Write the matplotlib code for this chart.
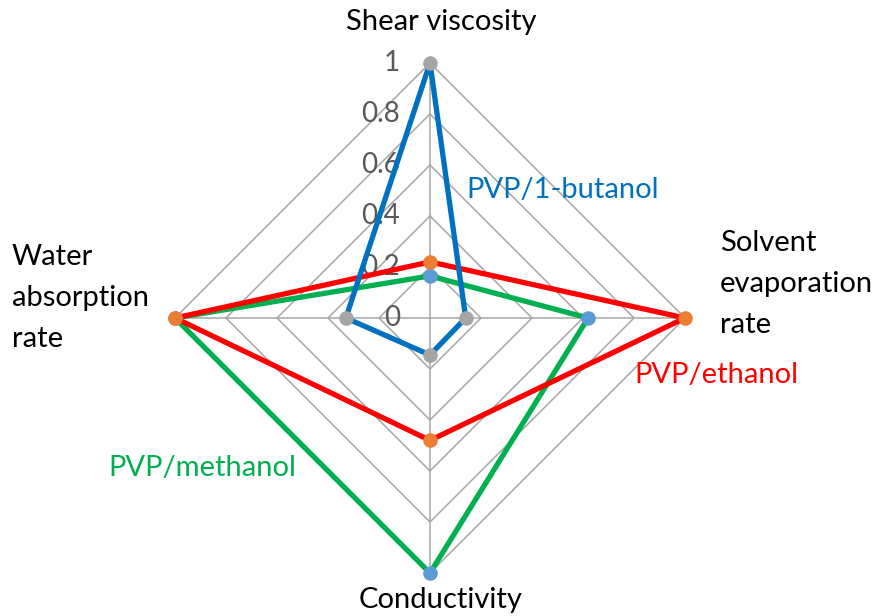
import matplotlib.pyplot as plt
import numpy as np

# axes go clockwise from the top
axes_names = ["Shear viscosity", "Solvent evaporation rate", "Conductivity", "Water absorption rate"]
series_names = ["PVP/methanol", "PVP/ethanol", "PVP/1-butanol"]
methanol = [0.165, 0.62, 1.0, 1.0]
ethanol = [0.22, 1.0, 0.48, 1.0]
butanol = [1.0, 0.14, 0.145, 0.33]
ring_levels = [0.2, 0.4, 0.6, 0.8, 1.0]
tick_labels = ["0", "0.2", "0.4", "0.6", "0.8", "1"]

line_colors = ["#00B050", "#FF0000", "#0070C0"]
marker_colors = ["#5B9BD5", "#ED7D31", "#A5A5A5"]

plt.rcParams["font.family"] = ["Lato", "DejaVu Sans"]

fig = plt.figure(figsize=(8.81, 6.16), dpi=100)
W, H = 881, 616
cx, cy, rad = 430, 318, 255
ax = fig.add_axes([(cx - rad) / W, (H - cy - rad) / H, 2 * rad / W, 2 * rad / H],
                  projection="polar")
ax.set_theta_offset(np.pi / 2)
ax.set_theta_direction(-1)
ax.set_ylim(0, 1)
ax.grid(False)
ax.spines["polar"].set_visible(False)
ax.set_xticks([])
ax.set_yticks([])
ax.patch.set_alpha(0)

angles = np.linspace(0, 2 * np.pi, len(axes_names), endpoint=False)
closed = np.append(angles, angles[0])

# diamond grid and spokes
for lvl in ring_levels:
    ax.plot(closed, [lvl] * len(closed), color="#A6A6A6", lw=1.1, zorder=1, clip_on=False)
for a in angles:
    ax.plot([a, a], [0, 1], color="#A6A6A6", lw=1.1, zorder=1)

# value labels on the top spoke
for lvl, lab in zip([0] + ring_levels, tick_labels):
    ax.annotate(lab, xy=(0, lvl), xytext=(-30, 0), textcoords="offset pixels",
                ha="right", va="center", fontsize=20, color="#595959", zorder=2)

for vals, lc, mc in zip([methanol, ethanol, butanol], line_colors, marker_colors):
    v = np.append(vals, vals[0])
    ax.plot(closed, v, color=lc, lw=3.8, zorder=3, clip_on=False)
    ax.plot(angles, vals, "o", color=mc, ms=10.5, mec="none", zorder=4, clip_on=False)

fs = 21
fig.text(441 / W, 1 - 22 / H, "Shear viscosity", ha="center", va="center", fontsize=fs)
fig.text(720 / W, 1 - 284 / H, "Solvent\nevaporation\nrate", ha="left", va="center",
         fontsize=fs, linespacing=1.72)
fig.text(441 / W, 1 - 600 / H, "Conductivity", ha="center", va="center", fontsize=fs)
fig.text(12 / W, 1 - 298 / H, "Water\nabsorption\nrate", ha="left", va="center",
         fontsize=fs, linespacing=1.72)

fig.text(466 / W, 1 - 190 / H, "PVP/1-butanol", ha="left", va="center", fontsize=fs, color="#0070C0")
fig.text(634 / W, 1 - 375 / H, "PVP/ethanol", ha="left", va="center", fontsize=fs, color="#FF0000")
fig.text(108 / W, 1 - 468 / H, "PVP/methanol", ha="left", va="center", fontsize=fs, color="#00B050")

fig.savefig("out.png", dpi=100)
